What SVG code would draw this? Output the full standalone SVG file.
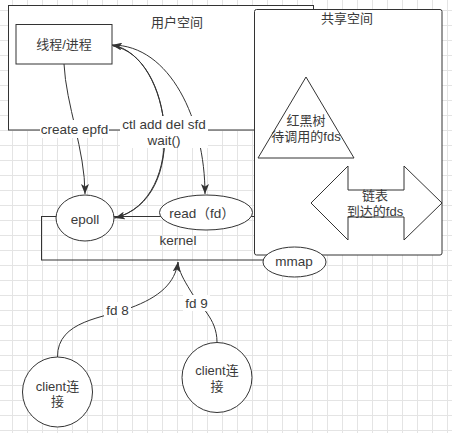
<svg xmlns="http://www.w3.org/2000/svg" width="452" height="433" viewBox="0 0 452 433">
<style>
.box{fill:#fff;stroke:#333;stroke-width:1}
.open{fill:none;stroke:#333;stroke-width:1}
.edge{fill:none;stroke:#333;stroke-width:1}
.t{font-family:"Liberation Sans","Noto Sans CJK SC",sans-serif;font-size:13.5px;fill:#3a3a3a;text-anchor:middle;dominant-baseline:central}
.c{font-size:13px}
.bg{fill:#fff}
</style>
<defs>
<pattern id="grid" x="12" y="10" width="15" height="15" patternUnits="userSpaceOnUse">
<path d="M0.5,0 V15 M0,0.5 H15" stroke="#e4e4e4" stroke-width="1" fill="none"/>
</pattern>
<marker id="arr" viewBox="0 0 10 8" refX="10" refY="4" markerWidth="10" markerHeight="8" markerUnits="userSpaceOnUse" orient="auto">
<path d="M0,0 L10,4 L0,8 L2.5,4 z" fill="#333"/>
</marker>
</defs>
<rect width="452" height="433" fill="#fff"/>
<rect width="452" height="433" fill="url(#grid)"/>

<g id="userspace">
<rect class="box" x="8.5" y="5.5" width="305" height="124.5"/>
<text class="t c" x="177" y="22">用户空间</text>
</g>
<g id="kernel">
<rect class="open" x="41.5" y="216.5" width="253" height="43.5"/>
<text class="t" x="178" y="240">kernel</text>
</g>
<g id="sharedspace">
<rect class="box" x="254.5" y="9.5" width="187.5" height="245.5" rx="2"/>
<text class="t c" x="347" y="18">共享空间</text>
</g>
<g id="rbtree">
<polygon class="box" points="306,77 354,158 258,158"/>
<text class="t c" x="306" y="120">红黑树</text>
<text class="t c" x="306" y="136">待调用的fds</text>
</g>
<g id="list">
<polygon class="box" points="311,203 348,166 348,190 404,190 404,166 442,203 404,240 404,217 348,217 348,240"/>
<text class="t c" x="375" y="195">链表</text>
<text class="t c" x="375" y="211">到达的fds</text>
</g>
<g id="thread">
<rect class="box" x="16" y="24.5" width="96" height="39.5"/>
<text class="t c" x="64" y="44">线程/进程</text>
</g>
<g id="epoll">
<ellipse class="box" cx="85" cy="218" rx="29" ry="23"/>
<text class="t" x="85" y="219">epoll</text>
</g>
<g id="read">
<ellipse class="box" cx="206" cy="212.5" rx="46.5" ry="17.5"/>
<text class="t" x="202" y="213">read（fd）</text>
</g>
<g id="mmap">
<ellipse class="box" cx="294.5" cy="262" rx="31.5" ry="15"/>
<text class="t" x="294" y="261">mmap</text>
</g>
<g id="client1">
<circle class="box" cx="57.5" cy="392" r="35"/>
<text class="t c" x="57.5" y="386">client连</text>
<text class="t c" x="57.5" y="401">接</text>
</g>
<g id="client2">
<circle class="box" cx="217" cy="377.5" r="35"/>
<text class="t c" x="217" y="370">client连</text>
<text class="t c" x="217" y="386">接</text>
</g>

<g id="connectors">
<path class="edge" d="M64,64 C66,105 85,150 85,194" marker-end="url(#arr)"/>
<path class="edge" d="M113,46 C173,56 189,199 115,218" marker-end="url(#arr)"/>
<path class="edge" d="M114,218 C191,201 172,55 112,45" marker-end="url(#arr)"/>
<path class="edge" d="M112,45 C170,45 205,120 205,194" marker-end="url(#arr)"/>
<path class="edge" d="M217,342 C217,318 199,306 190,290 C184,280 179,272 178,262"/>
<path class="edge" d="M57.5,357 C57,320 105,318 130,308 C160,297 175,283 178,262" marker-end="url(#arr)"/>
<rect class="bg" x="40" y="120" width="69" height="18"/>
<text class="t" x="74.5" y="129">create epfd</text>
<rect class="bg" x="120" y="116" width="88" height="32"/>
<text class="t" x="164" y="124">ctl add del sfd</text>
<text class="t" x="164" y="140">wait()</text>
<rect class="bg" x="104" y="302" width="27" height="16"/>
<text class="t" x="117.5" y="310">fd 8</text>
<rect class="bg" x="183" y="295" width="27" height="16"/>
<text class="t" x="196.5" y="303">fd 9</text>
</g>
</svg>
